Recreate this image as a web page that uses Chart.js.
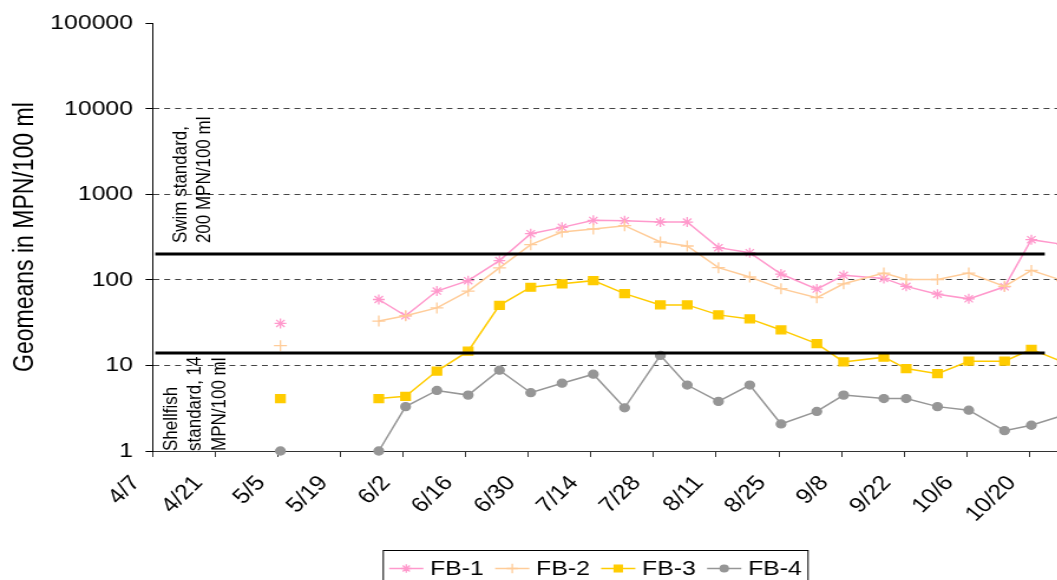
<!DOCTYPE html>
<html>
<head>
<meta charset="utf-8">
<title>Geomeans at FB stations</title>
<script src="https://cdn.jsdelivr.net/npm/chart.js@4.4.1/dist/chart.umd.min.js"></script>
<style>
  html, body { margin: 0; padding: 0; overflow: hidden; background: #fff; }
  #wrap { width: 1057px; height: 580px; overflow: hidden; }
  /* the original picture is a horizontally stretched chart */
  canvas { display: block; transform: scaleX(1.18); transform-origin: 0 0; }
</style>
</head>
<body>
<div id="wrap"><canvas id="geoChart" width="910" height="580"></canvas></div>
<script>
// Sampling dates (season starting 4/7) and geomeans in MPN/100 ml
const sampleDates = ['5/5', '5/27', '6/2', '6/9', '6/16', '6/23', '6/30', '7/7', '7/14', '7/21', '7/29', '8/4',
                     '8/11', '8/18', '8/25', '9/2', '9/8', '9/17', '9/22', '9/29', '10/6', '10/14', '10/20', '10/27'];
const fb1 = [31, 59, 38, 74, 98, 168, 347, 411, 496, 492, 474, 474, 238, 208, 117, 78, 113, 104, 84, 68, 60, 83, 295, 260];
const fb2 = [17, 33, 38, 47, 74, 138, 258, 362, 393, 430, 277, 249, 139, 108, 79, 62, 90, 120, 101, 101, 120, 84, 129, 98];
const fb3 = [4.1, 4.1, 4.35, 8.6, 14.7, 50.5, 82, 90, 98, 69, 51, 51, 39, 35, 26, 18, 11, 12.5, 9.2, 8.0, 11.2, 11.2, 15.4, 11];
const fb4 = [1, 1, 3.3, 5.1, 4.5, 8.8, 4.8, 6.2, 7.9, 3.2, 13.1, 5.9, 3.8, 5.9, 2.07, 2.9, 4.5, 4.1, 4.1, 3.3, 3.0, 1.73, 2.0, 2.6];

const seriesNames = ['FB-1', 'FB-2', 'FB-3', 'FB-4'];
const xTickLabels = ['4/7', '4/21', '5/5', '5/19', '6/2', '6/16', '6/30', '7/14', '7/28', '8/11', '8/25', '9/8', '9/22', '10/6', '10/20'];
const yTickValues = [1, 10, 100, 1000, 10000, 100000];

// Water quality standards
const swimStandard = 200;
const shellfishStandard = 14;
const standardSpan = ['4/7', '10/23'];
const swimNote = ['Swim standard,', '200 MPN/100 ml'];
const shellfishNote = ['Shellfish', 'standard, 14', 'MPN/100 ml'];

const FONT = 'Arial, "Liberation Sans", Helvetica, sans-serif';
const SEASON_START = Date.UTC(2008, 3, 7);
const DAY = 86400000;

// days since 4/7
function dayOf(md) {
    const [m, d] = md.split('/').map(Number);
    return Math.round((Date.UTC(2008, m - 1, d) - SEASON_START) / DAY);
}
function labelOf(day) {
    const dt = new Date(SEASON_START + Math.round(day) * DAY);
    return (dt.getUTCMonth() + 1) + '/' + dt.getUTCDate();
}
// points sit in the middle of their day, as on the original date axis
const toPoints = vals => vals.map((v, i) => ({ x: dayOf(sampleDates[i]) + 0.5, y: v }));
const standardLine = v => standardSpan.map(d => ({ x: dayOf(d) + 0.5, y: v }));

const seriesStyles = [
    { color: '#ff99cc', pointStyle: 'star', radius: 5 },
    { color: '#ffcc99', pointStyle: 'cross', radius: 5.5 },
    { color: '#ffcc00', pointStyle: 'rect', radius: 5.6 },
    { color: '#969696', pointStyle: 'circle', radius: 4 },
];
const seriesValues = [fb1, fb2, fb3, fb4];

const datasets = seriesValues.map((vals, i) => ({
    label: seriesNames[i],
    data: toPoints(vals),
    borderColor: seriesStyles[i].color,
    backgroundColor: seriesStyles[i].color,
    borderWidth: 1.5,
    pointStyle: seriesStyles[i].pointStyle,
    pointRadius: seriesStyles[i].radius,
    pointBorderWidth: 1.3,
    pointBorderColor: seriesStyles[i].color,
    pointBackgroundColor: seriesStyles[i].color,
    tension: 0,
    spanGaps: 14,      // break the line across the May gap
    clip: false,
    order: 4 - i,
    isSeries: true,
}));

datasets.push(
    { label: 'Swim standard', data: standardLine(swimStandard), borderColor: '#000', borderWidth: 3, pointRadius: 0, order: 0, clip: false },
    { label: 'Shellfish standard', data: standardLine(shellfishStandard), borderColor: '#000', borderWidth: 3, pointRadius: 0, order: 0, clip: false }
);

// vertical notes by the standard lines, boxed legend under the axis
const decorPlugin = {
    id: 'decor',
    afterDatasetsDraw(chart) {
        const { ctx, chartArea, scales: { y } } = chart;
        const drawVertical = (lines, x0, y0, step) => {
            lines.forEach((txt, i) => {
                ctx.save();
                ctx.translate(x0 + i * step, y0);
                ctx.rotate(-Math.PI / 2);
                ctx.fillText(txt, 0, 0);
                ctx.restore();
            });
        };
        ctx.save();
        ctx.fillStyle = '#000';
        ctx.font = '17px ' + FONT;
        ctx.textAlign = 'left';
        ctx.textBaseline = 'alphabetic';
        drawVertical(swimNote, chartArea.left + 28, y.getPixelForValue(swimStandard) - 11, 20.3);
        drawVertical(shellfishNote, chartArea.left + 20.3, chartArea.bottom, 20.3);
        ctx.restore();
    },
    afterDraw(chart) {
        const { ctx } = chart;
        const box = { left: 324.8, top: 550.5, width: 360, height: 40 };
        ctx.save();
        ctx.strokeStyle = '#000';
        ctx.lineWidth = 1;
        ctx.strokeRect(box.left, box.top, box.width, box.height);
        ctx.font = '21px ' + FONT;
        ctx.textBaseline = 'middle';
        ctx.textAlign = 'left';
        const cy = box.top + 18;
        let x = box.left + 5;
        chart.data.datasets.filter(d => d.isSeries).forEach(ds => {
            ctx.strokeStyle = ds.borderColor;
            ctx.lineWidth = ds.borderWidth;
            ctx.beginPath();
            ctx.moveTo(x, cy);
            ctx.lineTo(x + 29, cy);
            ctx.stroke();
            ctx.fillStyle = ds.pointBackgroundColor;
            ctx.lineWidth = ds.pointBorderWidth;
            Chart.helpers.drawPoint(ctx, {
                pointStyle: ds.pointStyle, rotation: 0,
                radius: ds.pointRadius * 0.85, borderWidth: ds.pointBorderWidth
            }, x + 14.5, cy);
            ctx.fillStyle = '#000';
            ctx.fillText(ds.label, x + 34.7, cy + 1);
            x += 34.7 + ctx.measureText(ds.label).width + 9.6;
        });
        ctx.restore();
    }
};

new Chart(document.getElementById('geoChart').getContext('2d'), {
    type: 'line',
    data: { datasets },
    options: {
        responsive: false,
        animation: false,
        devicePixelRatio: 1,
        layout: { autoPadding: false, padding: { top: 22, right: 0, bottom: 0, left: 0 } },
        plugins: {
            legend: { display: false },
            tooltip: { enabled: false },
        },
        scales: {
            x: {
                type: 'linear',
                min: 0,
                max: 206,
                afterBuildTicks: s => { s.ticks = xTickLabels.map(l => ({ value: dayOf(l) })); },
                afterFit: s => { s.height = 129; },
                ticks: {
                    autoSkip: false, minRotation: 48, maxRotation: 48,
                    padding: 14, labelOffset: -14.5,
                    color: '#000', font: { size: 21, family: FONT },
                    callback: v => labelOf(v),
                },
                grid: { drawOnChartArea: false, drawTicks: true, tickLength: 6, color: '#333', tickColor: '#333' },
                border: { color: '#333', width: 1 },
            },
            y: {
                type: 'logarithmic',
                min: 1,
                max: 100000,
                afterBuildTicks: s => { s.ticks = yTickValues.map(v => ({ value: v })); },
                afterFit: s => { s.width = 129.7; },
                ticks: {
                    padding: 10.6, color: '#000', font: { size: 21, family: FONT },
                    callback: v => String(v),
                },
                grid: {
                    color: c => (c.tick && (c.tick.value === 1 || c.tick.value === 100000)) ? 'rgba(0,0,0,0)' : '#444',
                    tickColor: '#000', tickLength: 6.4, lineWidth: 1,
                },
                border: { color: '#000', width: 1, dash: [5, 4.2] },
                title: {
                    display: true, text: 'Geomeans in MPN/100 ml', color: '#000',
                    font: { size: 23, family: FONT }, padding: { top: 7.4, bottom: 0 },
                },
            },
        },
    },
    plugins: [decorPlugin],
});
</script>
</body>
</html>
